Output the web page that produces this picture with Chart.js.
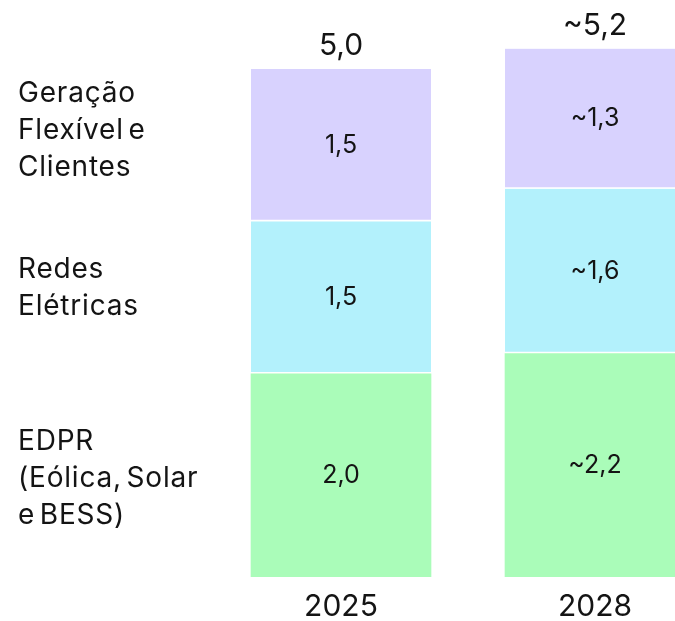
<!DOCTYPE html>
<html>
<head>
<meta charset="utf-8">
<script src="https://cdn.jsdelivr.net/npm/chart.js@4"></script>
<style>
  html, body { margin: 0; padding: 0; background: #fff; overflow: hidden; }
  #wrap { width: 735px; height: 621px; position: relative; }
</style>
</head>
<body>
<div id="wrap"><canvas id="capexChart"></canvas></div>
<script>
const years = ["2025", "2028"];
const edpr = [2.0, 2.2];
const redes = [1.5, 1.62];
const geracao = [1.5, 1.38];
const edprText = ["2,0", "~2,2"];
const redesText = ["1,5", "~1,6"];
const geracaoText = ["1,5", "~1,3"];
const totalText = ["5,0", "~5,2"];
const seriesNames = [
  ["EDPR", "(Eólica, Solar", "e BESS)"],
  ["Redes", "Elétricas"],
  ["Geração", "Flexível e", "Clientes"]
];

const FONT = "Inter, 'Noto Sans', sans-serif";
const INK = "#141414";

const labelsPlugin = {
  id: "labelsPlugin",
  afterDatasetsDraw(chart) {
    const ctx = chart.ctx;
    const texts = [edprText, redesText, geracaoText];
    ctx.save();
    ctx.fillStyle = INK;
    ctx.textAlign = "center";
    ctx.textBaseline = "middle";
    ctx.font = "25px " + FONT;
    chart.data.datasets.forEach(function (ds, i) {
      chart.getDatasetMeta(i).data.forEach(function (bar, j) {
        ctx.fillText(texts[i][j], bar.x, (bar.y + bar.base) / 2);
      });
    });
    // totals above the stacks
    const top = chart.getDatasetMeta(2).data;
    ctx.font = "30px " + FONT;
    top.forEach(function (bar, j) {
      ctx.fillText(totalText[j], bar.x, bar.y - 23);
    });
    // series names at the left, next to the first bar
    ctx.textAlign = "left";
    ctx.font = "28px " + FONT;
    ctx.letterSpacing = "0.8px";
    ctx.wordSpacing = "-4px";
    const offsets = [3, -10, -15];
    chart.data.datasets.forEach(function (ds, i) {
      const bar = chart.getDatasetMeta(i).data[0];
      const lines = seriesNames[i];
      const mid = (bar.y + bar.base) / 2 + offsets[i];
      const lh = 37;
      lines.forEach(function (t, k) {
        ctx.fillText(t, 18, mid + (k - (lines.length - 1) / 2) * lh);
      });
    });
    ctx.restore();
  }
};

const ctx = document.getElementById("capexChart").getContext("2d");
new Chart(ctx, {
  type: "bar",
  data: {
    labels: years,
    datasets: [
      {
        label: "EDPR (Eólica, Solar e BESS)",
        data: edpr,
        backgroundColor: "#aafcb9",
        borderWidth: 0
      },
      {
        label: "Redes Elétricas",
        data: redes,
        backgroundColor: "#b3f1fc",
        borderColor: "#ffffff",
        borderWidth: { top: 0, right: 0, bottom: 2, left: 0 },
        borderSkipped: false
      },
      {
        label: "Geração Flexível e Clientes",
        data: geracao,
        backgroundColor: "#d8d2fe",
        borderColor: "#ffffff",
        borderWidth: { top: 0, right: 0, bottom: 2, left: 0 },
        borderSkipped: false
      }
    ]
  },
  options: {
    responsive: true,
    maintainAspectRatio: false,
    animation: false,
    barThickness: 180,
    layout: { padding: { left: 214, right: 13, top: 8, bottom: -16 } },
    plugins: {
      legend: { display: false },
      tooltip: { enabled: false }
    },
    scales: {
      x: {
        stacked: true,
        grid: { display: false, drawTicks: false },
        border: { display: false },
        ticks: {
          color: INK,
          padding: 15,
          font: { family: FONT, size: 30, lineHeight: 1 }
        }
      },
      y: {
        stacked: true,
        display: false,
        min: 0,
        max: 5.6
      }
    }
  },
  plugins: [labelsPlugin]
});
</script>
</body>
</html>
